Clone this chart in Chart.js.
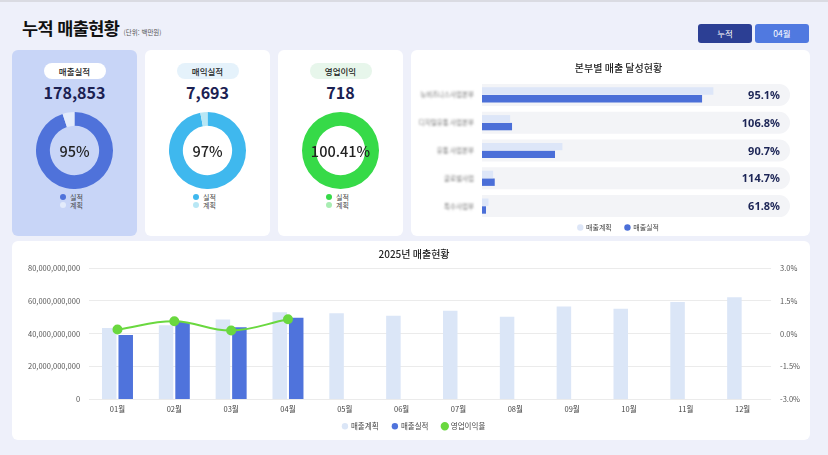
<!DOCTYPE html>
<html lang="ko">
<head>
<meta charset="utf-8">
<title>누적 매출현황</title>
<script src="https://cdn.jsdelivr.net/npm/chart.js@4.4.1/dist/chart.umd.min.js"></script>
<style>
  html, body { margin: 0; padding: 0; }
  body {
    width: 828px; height: 455px; position: relative; overflow: hidden;
    background: #eef0fa;
    font-family: "Noto Sans CJK KR", "Noto Sans", sans-serif;
  }
  .topline { position: absolute; left: 0; top: 0; width: 828px; height: 2px; background: #dadbe2; }
  .title { position: absolute; left: 22px; top: 15px; font-size: 17.5px; font-weight: 700; color: #111; letter-spacing: -0.6px; }
  .title small { font-size: 6.5px; font-weight: 400; color: #555; letter-spacing: 0; }
  .btn { position: absolute; top: 24px; width: 54px; height: 19px; border-radius: 3px; color: #fff;
         font-size: 8.5px; line-height: 19px; text-align: center; }
  .card { position: absolute; background: #fff; border-radius: 6px; }
  .kpi { top: 50px; width: 125px; height: 186px; }
  .pill { position: absolute; left: 50%; transform: translateX(-50%); top: 13px; width: 62px; height: 16px;
          border-radius: 8px; font-size: 8.5px; line-height: 16px; text-align: center; color: #222; font-weight: 500; }
  .num { position: absolute; left: 0; width: 100%; top: 32px; text-align: center;
         font-size: 16px; font-weight: 700; color: #1b2152; line-height: 20px; }
  .kpi canvas { position: absolute; left: 24px; top: 62px; }
  .leg { position: absolute; left: 51px; top: 143px; font-size: 7px; color: #444; }
  .leg div { position: relative; padding-left: 7px; height: 8px; line-height: 8px; }
  .leg i { position: absolute; left: -3px; top: 1px; width: 6px; height: 6px; border-radius: 50%; }
  .box { position: absolute; }
</style>
</head>
<body>
<div class="topline"></div>
<div class="title">누적 매출현황 <small>(단위: 백만원)</small></div>
<div class="btn" style="left:698px;background:#2c3f94;">누적</div>
<div class="btn" style="left:755px;background:#5079e0;">04월</div>

<div id="kpi0" class="card kpi" style="left:12px;background:#c8d5f7;"></div>
<div id="kpi1" class="card kpi" style="left:145px;"></div>
<div id="kpi2" class="card kpi" style="left:278px;"></div>

<div class="card box" style="left:411px;top:50px;width:399px;height:186px;"><canvas id="divChart" width="399" height="186"></canvas></div>
<div class="card box" style="left:12px;top:241px;width:798px;height:199px;"><canvas id="monthChart" width="798" height="199"></canvas></div>

<script>
// KPI cards
const kpiTitles = ['매출실적', '매익실적', '영업이익'];
const kpiValues = ['178,853', '7,693', '718'];
const kpiActual = [95, 97, 100.41];
const kpiRemain = [5, 3, 0];
const kpiCenter = ['95%', '97%', '100.41%'];
const kpiLegend = ['실적', '계획'];
const kpiColors = [['#4f72da', '#e3ebfb'], ['#3fb8ee', '#b8e7f5'], ['#36da48', '#a8edb2']];
const kpiPillBg = ['#ffffff', '#e5f2fb', '#e7f6eb'];

// 본부별 매출 달성현황
const divisions = ['뉴비즈니스사업본부', '디지털유통 사업본부', '유통 사업본부', '글로벌사업', '특수사업부'];
const divPlan = [121700, 14800, 42300, 5850, 3400];
const divActual = [115750, 15800, 38400, 6700, 2100];
const divRate = ['95.1%', '106.8%', '90.7%', '114.7%', '61.8%'];

// 2025년 매출현황
const months = ['01월', '02월', '03월', '04월', '05월', '06월', '07월', '08월', '09월', '10월', '11월', '12월'];
const monthPlan = [43500000000, 45100000000, 48600000000, 53100000000, 52500000000, 50900000000,
                   54000000000, 50300000000, 56600000000, 55200000000, 59300000000, 62200000000];
const monthActual = [39300000000, 47100000000, 44000000000, 49700000000, null, null, null, null, null, null, null, null];
const monthMargin = [0.19, 0.57, 0.15, 0.66, null, null, null, null, null, null, null, null];

Chart.defaults.font.family = "'Noto Sans CJK KR', 'Noto Sans', sans-serif";
Chart.defaults.color = '#555';
Chart.defaults.animation = false;

// wider gaps between legend items without making the legend box taller
const spacedLabels = chart => {
    const items = Chart.defaults.plugins.legend.labels.generateLabels(chart);
    items.sort((a, b) => a.datasetIndex - b.datasetIndex);
    items.forEach((it, i) => { if (i < items.length - 1) it.text += '      '; });
    return items;
};

// text in the middle of the doughnut
const centerText = {
    id: 'centerText',
    afterDraw(chart, args, opts) {
        const {ctx, chartArea} = chart;
        ctx.save();
        ctx.font = "500 14.5px 'Noto Sans CJK KR', sans-serif";
        ctx.fillStyle = '#222';
        ctx.textAlign = 'center';
        ctx.textBaseline = 'middle';
        ctx.fillText(opts.text, (chartArea.left + chartArea.right) / 2, (chartArea.top + chartArea.bottom) / 2 + 1);
        ctx.restore();
    }
};

kpiTitles.forEach((t, i) => {
    const card = document.getElementById('kpi' + i);
    card.innerHTML =
        `<div class="pill" style="background:${kpiPillBg[i]}">${t}</div>` +
        `<div class="num">${kpiValues[i]}</div>` +
        `<canvas width="77" height="77"></canvas>` +
        `<div class="leg">` + kpiLegend.map((l, j) => `<div><i style="background:${kpiColors[i][j]}"></i>${l}</div>`).join('') + `</div>`;
    new Chart(card.querySelector('canvas'), {
        type: 'doughnut',
        data: {
            labels: kpiLegend,
            datasets: [{ data: [kpiActual[i], kpiRemain[i]], backgroundColor: kpiColors[i], borderWidth: 0 }]
        },
        options: {
            responsive: false,
            cutout: '64%',
            plugins: { legend: { display: false }, tooltip: { enabled: false }, centerText: { text: kpiCenter[i] } }
        },
        plugins: [centerText]
    });
});

// grey rows, blurred division names and rate text for the division chart
const divDecor = {
    id: 'divDecor',
    beforeDatasetsDraw(chart) {
        const {ctx, chartArea, scales} = chart;
        ctx.save();
        ctx.fillStyle = '#f3f4f7';
        divisions.forEach((d, i) => {
            const y = scales.y.getPixelForValue(i);
            ctx.beginPath();
            ctx.roundRect(chartArea.left, y - 11, chartArea.right - chartArea.left, 22, [0, 11, 11, 0]);
            ctx.fill();
        });
        ctx.restore();
    },
    afterDraw(chart) {
        const {ctx, chartArea, scales} = chart;
        ctx.save();
        ctx.filter = 'blur(1.3px)';
        ctx.font = "6.5px 'Noto Sans CJK KR', sans-serif";
        ctx.fillStyle = '#777';
        ctx.textAlign = 'right';
        ctx.textBaseline = 'middle';
        divisions.forEach((d, i) => {
            ctx.fillText(d, chartArea.left - 8, scales.y.getPixelForValue(i));
        });
        ctx.restore();

        ctx.save();
        ctx.font = "bold 11px 'Noto Sans', sans-serif";
        ctx.fillStyle = '#1c2556';
        ctx.textAlign = 'right';
        ctx.textBaseline = 'middle';
        divRate.forEach((r, i) => {
            ctx.fillText(r, chartArea.right - 10, scales.y.getPixelForValue(i) + 1);
        });
        ctx.restore();
    }
};

new Chart(document.getElementById('divChart'), {
    type: 'bar',
    data: {
        labels: divisions,
        datasets: [
            { label: '매출계획', data: divPlan, backgroundColor: '#dde6f8', categoryPercentage: 0.56, barPercentage: 0.95 },
            { label: '매출실적', data: divActual, backgroundColor: '#4b6fd8', categoryPercentage: 0.56, barPercentage: 0.95 }
        ]
    },
    options: {
        responsive: false,
        indexAxis: 'y',
        layout: { padding: { left: 36, right: 20, top: 0, bottom: -5 } },
        scales: {
            x: { display: false, min: 0, max: 162000 },
            y: {
                grid: { display: false, drawTicks: false },
                border: { display: false },
                ticks: { display: false },
                afterFit: s => { s.width = 35; }
            }
        },
        plugins: {
            title: { display: true, text: '본부별 매출 달성현황', color: '#222', font: { size: 10, weight: '500' }, padding: { top: 12, bottom: 7 } },
            legend: { position: 'bottom', labels: { usePointStyle: true, pointStyle: 'circle', boxWidth: 4.5, boxHeight: 4.5, font: { size: 7 }, color: '#444', padding: 4,
                                                     generateLabels: spacedLabels } },
            tooltip: { enabled: false }
        }
    },
    plugins: [divDecor]
});

// monthly chart
new Chart(document.getElementById('monthChart'), {
    data: {
        labels: months,
        datasets: [
            { type: 'bar', label: '매출계획', data: monthPlan, backgroundColor: '#dbe6f7', yAxisID: 'y', order: 1,
              categoryPercentage: 0.58, barPercentage: 0.88 },
            { type: 'bar', label: '매출실적', data: monthActual, backgroundColor: '#4f73dc', yAxisID: 'y', order: 1,
              categoryPercentage: 0.58, barPercentage: 0.88 },
            { type: 'line', label: '영업이익율', data: monthMargin, yAxisID: 'y1', order: 0,
              borderColor: '#6ad83f', backgroundColor: '#6ad83f', borderWidth: 2, pointRadius: 4, tension: 0.4 }
        ]
    },
    options: {
        responsive: false,
        layout: { padding: { left: 7, right: 1, top: 0, bottom: 0 } },
        scales: {
            x: { grid: { display: false, drawTicks: false }, border: { display: false },
                 ticks: { font: { size: 7.5 }, color: '#444', padding: 5 } },
            y: {
                min: 0, max: 80000000000,
                ticks: { stepSize: 20000000000, font: { size: 7.5 }, color: '#555', padding: 9,
                         callback: v => v.toLocaleString('en-US') },
                grid: { color: '#ebebeb', drawTicks: false },
                border: { display: false }
            },
            y1: {
                position: 'right', min: -3, max: 3,
                ticks: { stepSize: 1.5, font: { size: 7.5 }, color: '#555', padding: 9,
                         callback: v => v.toFixed(1) + '%' },
                grid: { display: false, drawTicks: false },
                border: { display: false }
            }
        },
        plugins: {
            title: { display: true, text: '2025년 매출현황', color: '#222', font: { size: 10, weight: '500' }, padding: { top: 7, bottom: 8 } },
            legend: {
                position: 'bottom',
                labels: { usePointStyle: true, pointStyle: 'circle', boxWidth: 4.5, boxHeight: 4.5, font: { size: 7.5 }, color: '#444', padding: 4,
                          generateLabels: spacedLabels }
            },
            tooltip: { enabled: false }
        }
    }
});
</script>
</body>
</html>
